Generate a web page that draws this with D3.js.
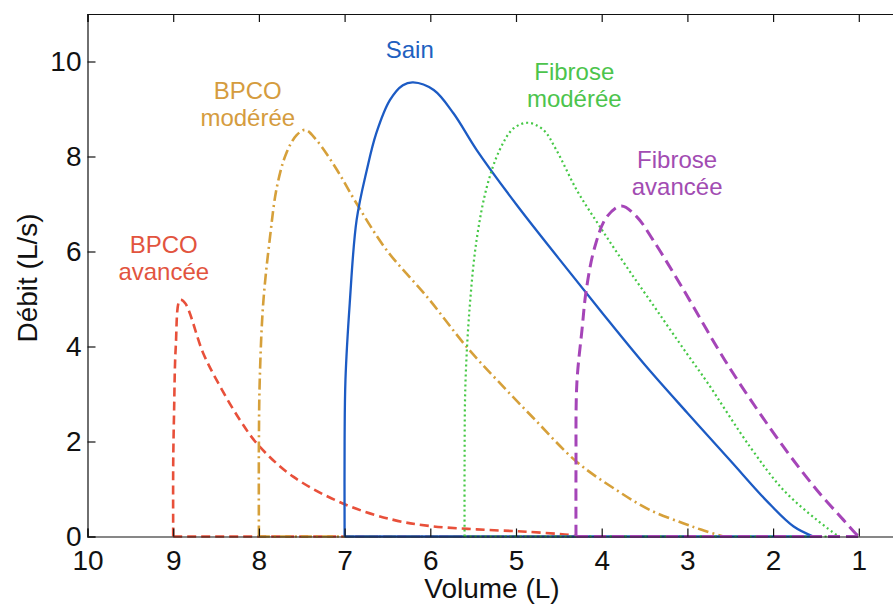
<!DOCTYPE html>
<html><head><meta charset="utf-8">
<script src="https://cdn.jsdelivr.net/npm/d3@7"></script>
<style>
html,body{margin:0;padding:0;background:#fff;}
svg{display:block;font-family:"Liberation Sans",Arial,sans-serif;}
</style></head>
<body>
<svg id="c" width="893" height="604"></svg>
<script>
// ---- data ----
const xTicks = [10,9,8,7,6,5,4,3,2,1];
const yTicks = [0,2,4,6,8,10];

const bpcoAvVol  = [9.0,9.0,8.99,8.97,8.92,8.86,8.65,8.45,8.22,8.01,7.60,7.0,6.43,6.0,5.46,4.88,4.37,4.3];
const bpcoAvFlow = [0,1.5,2.6,4.0,4.98,4.91,3.86,3.15,2.45,1.93,1.26,0.68,0.35,0.22,0.15,0.10,0.03,0];

const bpcoModVol  = [8.0,8.0,7.99,7.95,7.87,7.79,7.68,7.56,7.46,7.33,7.09,6.86,6.51,6.04,5.58,5.22,4.8,4.29,3.83,3.44,3.05,2.8,2.58];
const bpcoModFlow = [0,2.0,3.3,4.9,6.31,7.36,8.07,8.45,8.56,8.35,7.72,7.01,6.03,5.05,4.0,3.29,2.5,1.57,0.98,0.56,0.28,0.12,0];

const sainVol  = [7.0,7.0,6.99,6.94,6.86,6.74,6.63,6.47,6.32,6.20,5.96,5.73,5.46,5.0,4.5,4.0,3.5,3.0,2.5,2.07,1.76,1.53];
const sainFlow = [0,2.0,3.3,4.91,6.66,7.72,8.49,9.19,9.5,9.56,9.4,8.91,8.14,7.0,5.85,4.72,3.62,2.6,1.6,0.74,0.21,0];

const fibModVol  = [5.6,5.6,5.59,5.54,5.46,5.34,5.19,5.03,4.86,4.68,4.53,4.29,4.02,3.71,3.36,3.01,2.77,2.27,1.88,1.49,1.26,1.24];
const fibModFlow = [0,1.5,3.22,4.84,6.24,7.36,8.14,8.59,8.71,8.56,8.14,7.29,6.52,5.68,4.77,3.86,3.25,1.89,0.98,0.35,0.03,0];

const fibAvVol  = [4.3,4.3,4.29,4.23,4.18,4.08,3.94,3.77,3.59,3.40,3.16,2.93,2.66,2.40,1.88,1.49,1.18,1.04,1.0];
const fibAvFlow = [0,1.5,3.22,4.35,5.19,6.1,6.73,6.96,6.73,6.24,5.54,4.84,4.0,3.25,1.89,0.98,0.35,0.07,0];

const seriesNames  = ["BPCO avancée","BPCO modérée","Sain","Fibrose modérée","Fibrose avancée"];
const labelLines   = [["BPCO","avancée"],["BPCO","modérée"],["Sain"],["Fibrose","modérée"],["Fibrose","avancée"]];
const labelAnchorX = [9.11, 8.13, 6.24, 4.32, 3.12];   // volume where the label is centred
const labelAnchorY = [5.97, 9.22, 10.07, 9.62, 7.75];  // flow at first-line baseline

// ---- layout / styles ----
const colors = ["#e8503a","#d6a03a","#1c5bc4","#45c845","#a545b8"];
const textColors = ["#e2543e","#d59c3e","#2060c0","#4cc44c","#a24cb2"];
const dashes = ["9,5","11,4,2,4","none","2,3","12,6"];
const widths = [2.6,2.6,2.3,2.2,3];

const svg = d3.select("#c");
const x = d3.scaleLinear().domain([10,0]).range([87.5,944.5]);
const y = d3.scaleLinear().domain([0,11]).range([536.5,14]);

const vols  = [bpcoAvVol,bpcoModVol,sainVol,fibModVol,fibAvVol];
const flows = [bpcoAvFlow,bpcoModFlow,sainFlow,fibModFlow,fibAvFlow];

const line = d3.line().x(d=>x(d[0])).y(d=>y(d[1])).curve(d3.curveCatmullRom.alpha(0.5));

vols.forEach((v,i)=>{
  const pts = v.map((vv,j)=>[vv,flows[i][j]]);
  svg.append("path")
    .attr("d", d3.line().x(d=>x(d[0])).y(d=>y(d[1]))([[v[0],0],[v[v.length-1],0]]))
    .attr("fill","none").attr("stroke",colors[i]).attr("stroke-width",widths[i])
    .attr("stroke-dasharray",dashes[i]==="none"?null:dashes[i]);
  svg.append("path")
    .attr("d", line(pts))
    .attr("fill","none").attr("stroke",colors[i]).attr("stroke-width",widths[i])
    .attr("stroke-dasharray",dashes[i]==="none"?null:dashes[i])
    .attr("stroke-linejoin","round");
});

// axes
const gx = svg.append("g").attr("transform","translate(0,536.5)")
  .call(d3.axisBottom(x).tickValues(xTicks).tickSize(-8).tickPadding(14).tickFormat(d3.format("d")));
const gt = svg.append("g").attr("transform","translate(0,14)")
  .call(d3.axisTop(x).tickValues(xTicks).tickSize(-8).tickFormat(""));
const gy = svg.append("g").attr("transform","translate(87.5,0)")
  .call(d3.axisLeft(y).tickValues(yTicks).tickSize(-8).tickPadding(6).tickFormat(d3.format("d")));
[gx,gt,gy].forEach(g=>{
  g.select(".domain").attr("stroke","#111").attr("stroke-width",1.2);
  g.selectAll(".tick line").attr("stroke","#111").attr("stroke-width",1.2);
  g.selectAll(".tick text").attr("fill","#111").style("font-size","28px")
   .style("font-family","'Liberation Sans',Arial,sans-serif");
});

svg.append("text").attr("x",492).attr("y",598).attr("text-anchor","middle")
  .style("font-size","28px").attr("fill","#111").text("Volume (L)");
svg.append("text").attr("transform","translate(37,278) rotate(-90)").attr("text-anchor","middle")
  .style("font-size","28px").attr("fill","#111").text("Débit (L/s)");

// series labels
labelLines.forEach((ls,i)=>{
  const t = svg.append("text").attr("text-anchor","middle").attr("fill",textColors[i])
    .style("font-size","24px");
  ls.forEach((s,k)=>{
    t.append("tspan").attr("x",x(labelAnchorX[i])).attr("y",y(labelAnchorY[i])+k*27).text(s);
  });
});
</script>
</body></html>
